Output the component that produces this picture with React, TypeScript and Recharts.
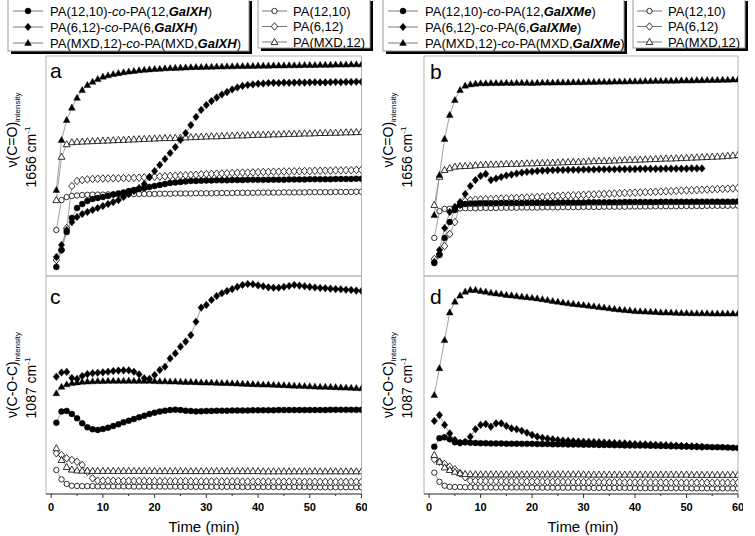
import React from 'react';
import { LineChart, Line, XAxis, YAxis, ReferenceArea } from 'recharts';

// time in minutes (x categories)
const times = [1,2,3,4,5,6,7,8,9,10,11,12,13,14,15,16,17,18,19,20,21,22,23,24,25,26,27,28,29,30,31,32,33,34,35,36,37,38,39,40,41,42,43,44,45,46,47,48,49,50,51,52,53,54,55,56,57,58,59,60];
const timeTicks = [0,5,10,15,20,25,30,35,40,45,50,55,60];

// ---------- Panel a : nu(C=O) 1656 cm-1, GalXH ----------
const aCircCo = [4.1,11.8,20.0,26.4,30.9,32.7,34.1,35.0,35.5,35.9,36.4,37.0,37.5,38.0,38.6,39.1,39.5,40.0,40.5,40.9,41.4,41.8,42.3,42.5,42.7,43.0,43.2,43.2,43.3,43.4,43.4,43.5,43.5,43.5,43.6,43.6,43.6,43.7,43.7,43.7,43.7,43.8,43.8,43.8,43.8,43.9,43.9,43.9,43.9,44.0,44.0,44.0,44.0,44.0,44.1,44.1,44.1,44.1,44.2,44.2];
const aDiaCo = [8.6,14.1,20.9,24.5,26.8,28.2,29.1,30.0,30.9,31.8,32.7,33.6,34.5,35.9,37.3,38.6,40.0,41.8,45.0,47.7,50.5,53.2,55.9,58.6,61.8,65.0,68.6,72.3,75.5,77.7,79.5,81.1,82.5,83.6,84.8,85.7,86.4,86.8,87.1,87.4,87.5,87.7,87.8,87.7,87.9,87.8,87.9,88.0,87.9,88.0,88.1,88.0,88.0,88.1,88.2,88.1,88.2,88.2,88.3,88.3];
const aTriCo = [39.1,61.8,70.9,76.5,81.0,84.5,86.8,88.3,89.5,90.6,91.2,91.8,92.2,92.6,92.9,93.2,93.5,93.7,93.9,94.1,94.2,94.4,94.5,94.6,94.7,94.8,94.9,95.0,95.0,95.1,95.1,95.2,95.2,95.3,95.3,95.4,95.4,95.5,95.5,95.6,95.6,95.6,95.7,95.7,95.7,95.8,95.8,95.8,95.9,95.9,95.9,96.0,96.0,96.0,96.1,96.1,96.1,96.2,96.2,96.2];
const aCirc = [20.9,34.5,35.9,36.4,36.6,36.8,36.9,37.0,37.0,37.0,37.1,37.1,37.1,37.2,37.2,37.2,37.3,37.3,37.3,37.3,37.4,37.4,37.4,37.5,37.5,37.5,37.5,37.6,37.6,37.6,37.6,37.7,37.7,37.7,37.7,37.8,37.8,37.8,37.8,37.9,37.9,37.9,37.9,37.9,38.0,38.0,38.0,38.0,38.0,38.1,38.1,38.1,38.1,38.1,38.2,38.2,38.2,38.2,38.3,38.3];
const aDia = [7.3,11.8,21.8,40.9,43.2,43.6,43.9,44.1,44.2,44.3,44.3,44.4,44.4,44.5,44.5,44.6,44.7,44.8,44.9,45.1,45.2,45.3,45.5,45.6,45.7,45.8,45.9,46.0,46.2,46.3,46.4,46.5,46.6,46.7,46.8,46.9,47.0,47.0,47.1,47.2,47.3,47.3,47.4,47.4,47.5,47.5,47.6,47.6,47.7,47.7,47.8,47.8,47.9,47.9,48.0,48.0,48.1,48.1,48.2,48.2];
const aTri = [34.5,54.2,59.9,60.8,61.0,61.1,61.2,61.3,61.4,61.5,61.6,61.7,61.8,61.9,62.0,62.1,62.2,62.3,62.4,62.5,62.6,62.7,62.7,62.8,62.9,63.0,63.1,63.2,63.3,63.4,63.5,63.5,63.6,63.7,63.8,63.9,63.9,64.0,64.1,64.2,64.2,64.3,64.4,64.4,64.5,64.6,64.6,64.7,64.8,64.8,64.9,65.0,65.0,65.1,65.1,65.2,65.3,65.3,65.4,65.5];

// ---------- Panel b : nu(C=O) 1656 cm-1, GalXMe ----------
const bCircCo = [5.9,9.5,17.3,24.5,30.0,32.3,32.7,33.0,33.0,33.1,33.1,33.1,33.1,33.2,33.2,33.2,33.2,33.2,33.3,33.3,33.3,33.3,33.3,33.3,33.4,33.4,33.4,33.4,33.4,33.4,33.5,33.5,33.5,33.5,33.5,33.5,33.5,33.6,33.6,33.6,33.6,33.6,33.6,33.6,33.7,33.7,33.7,33.7,33.7,33.7,33.7,33.8,33.8,33.8,33.8,33.8,33.8,33.8,33.8,33.9];
const bDiaCo = [6.4,11.8,21.8,29.1,31.4,33.6,37.3,40.9,43.6,45.5,46.4,43.6,44.3,45.0,45.7,46.1,46.6,47.0,47.3,47.5,47.7,47.9,48.0,48.1,48.2,48.2,48.3,48.3,48.3,48.4,48.4,48.4,48.5,48.5,48.5,48.5,48.6,48.6,48.6,48.6,48.7,48.7,48.7,48.7,48.7,48.8,48.8,48.8,48.8,48.8,48.9,48.9,48.9];
const bTriCo = [27.7,45.9,62.3,73.2,80.0,84.5,86.5,87.1,87.4,87.6,87.6,87.7,87.7,87.7,87.8,87.7,87.8,87.8,87.8,87.7,87.8,87.9,87.9,87.9,88.0,88.0,88.0,88.1,88.1,88.1,88.2,88.2,88.3,88.3,88.3,88.4,88.4,88.4,88.5,88.5,88.5,88.6,88.6,88.7,88.7,88.7,88.8,88.8,88.9,88.9,88.9,89.0,89.0,89.1,89.1,89.1,89.2,89.2,89.3,89.3];
const bCirc = [17.3,29.5,30.5,30.6,30.7,30.7,30.8,30.8,30.8,30.9,30.9,30.9,30.9,31.0,31.0,31.0,31.0,31.1,31.1,31.1,31.1,31.2,31.2,31.2,31.2,31.3,31.3,31.3,31.3,31.4,31.4,31.4,31.4,31.5,31.5,31.5,31.5,31.5,31.6,31.6,31.6,31.6,31.6,31.7,31.7,31.7,31.7,31.7,31.8,31.8,31.8,31.8,31.8,31.9,31.9,31.9,31.9,31.9,32.0,32.0];
const bDia = [7.7,10.0,13.6,19.1,24.5,32.3,34.1,34.5,34.7,34.8,34.9,35.0,35.1,35.2,35.3,35.4,35.5,35.6,35.7,35.8,35.9,36.0,36.1,36.3,36.4,36.5,36.6,36.7,36.8,36.9,37.0,37.1,37.2,37.3,37.4,37.5,37.6,37.7,37.8,37.9,38.0,38.1,38.2,38.3,38.4,38.5,38.6,38.7,38.8,38.9,39.0,39.1,39.2,39.3,39.4,39.5,39.6,39.7,39.8,40.0];
const bTri = [32.3,45.1,48.2,49.0,49.7,49.9,50.0,50.1,50.3,50.5,50.6,50.7,50.7,50.8,50.9,51.0,51.0,51.1,51.2,51.2,51.3,51.4,51.5,51.5,51.6,51.7,51.8,51.9,51.9,52.0,52.1,52.2,52.3,52.3,52.4,52.5,52.6,52.7,52.8,52.8,52.9,53.0,53.1,53.2,53.3,53.4,53.4,53.5,53.6,53.7,53.8,53.9,54.0,54.1,54.2,54.3,54.4,54.6,54.8,55.0];

// ---------- Panel c : nu(C-O-C) 1087 cm-1, GalXH ----------
const cCircCo = [32.7,37.8,38.1,36.7,34.7,32.4,30.6,29.7,29.4,29.8,30.4,31.2,32.0,32.9,33.6,34.4,35.2,35.9,36.7,37.3,37.8,38.2,38.5,38.7,38.5,38.2,38.1,37.9,38.0,38.1,38.1,38.2,38.2,38.2,38.3,38.3,38.3,38.3,38.4,38.4,38.4,38.4,38.4,38.5,38.5,38.5,38.5,38.5,38.5,38.5,38.5,38.5,38.5,38.6,38.6,38.6,38.6,38.6,38.6,38.6];
const cDiaCo = [53.8,55.7,56.0,53.2,52.8,54.1,55.0,55.4,55.6,55.8,56.1,56.4,56.6,56.7,56.7,56.1,54.9,53.1,52.8,54.6,56.9,58.4,62.2,64.5,67.6,69.9,72.9,79.0,85.5,86.7,89.0,90.8,92.1,93.1,94.0,95.0,95.9,96.3,96.2,95.7,95.3,94.8,94.6,94.6,95.0,95.4,95.9,95.6,95.3,95.0,94.7,94.5,94.4,94.2,94.0,93.9,93.7,93.6,93.3,93.1];
const cTriCo = [46.2,49.2,50.3,50.9,51.2,51.5,51.6,51.7,51.8,51.8,51.9,51.9,51.9,51.9,52.0,51.9,51.9,51.9,51.9,51.8,51.7,51.7,51.6,51.6,51.5,51.4,51.4,51.3,51.2,51.1,51.1,51.0,50.9,50.9,50.8,50.7,50.6,50.5,50.4,50.3,50.2,50.2,50.1,50.0,49.9,49.8,49.7,49.6,49.5,49.4,49.3,49.2,49.2,49.1,49.0,48.9,48.8,48.7,48.6,48.5];
const cCirc = [11.0,6.7,4.6,3.8,3.7,3.6,3.6,3.6,3.5,3.5,3.5,3.5,3.5,3.5,3.5,3.4,3.4,3.4,3.4,3.4,3.4,3.4,3.4,3.4,3.3,3.3,3.3,3.3,3.3,3.3,3.3,3.3,3.3,3.3,3.3,3.3,3.2,3.2,3.2,3.2,3.2,3.2,3.2,3.2,3.2,3.2,3.2,3.2,3.2,3.2,3.1,3.1,3.1,3.1,3.1,3.1,3.1,3.1,3.1,3.1];
const cDia = [18.7,17.9,16.4,15.6,14.8,13.3,10.2,7.2,6.1,6.1,6.1,6.1,6.0,6.0,6.0,6.0,6.0,6.0,5.9,5.9,5.9,5.9,5.9,5.9,5.9,5.9,5.8,5.8,5.8,5.8,5.8,5.8,5.8,5.8,5.8,5.8,5.7,5.7,5.7,5.7,5.7,5.7,5.7,5.7,5.7,5.7,5.7,5.7,5.6,5.6,5.6,5.6,5.6,5.6,5.6,5.6,5.6,5.6,5.6,5.6];
const cTri = [21.0,15.6,12.4,11.2,10.8,10.7,10.7,10.6,10.6,10.6,10.6,10.6,10.6,10.6,10.6,10.6,10.6,10.6,10.6,10.6,10.5,10.5,10.5,10.5,10.5,10.5,10.5,10.5,10.5,10.5,10.5,10.5,10.5,10.5,10.5,10.5,10.5,10.5,10.5,10.5,10.4,10.4,10.4,10.4,10.4,10.4,10.4,10.4,10.4,10.4,10.4,10.4,10.4,10.4,10.4,10.4,10.4,10.4,10.4,10.4];

// ---------- Panel d : nu(C-O-C) 1087 cm-1, GalXMe ----------
const dCircCo = [21.7,25.6,26.0,25.1,23.7,23.5,23.7,23.5,23.4,23.3,23.3,23.2,23.2,23.2,23.1,23.1,23.1,23.0,23.0,23.0,22.9,22.9,22.9,22.8,22.8,22.8,22.7,22.7,22.7,22.6,22.6,22.6,22.5,22.5,22.5,22.4,22.4,22.3,22.3,22.3,22.2,22.2,22.1,22.1,22.0,22.0,21.9,21.9,21.8,21.8,21.7,21.7,21.6,21.6,21.5,21.5,21.4,21.3,21.2,21.1];
const dDiaCo = [33.5,36.2,31.7,27.8,24.8,23.5,24.0,26.3,29.7,31.7,32.1,30.9,32.4,32.4,31.2,30.1,29.7,29.0,28.1,27.1,26.3,25.8,25.4,25.1,24.8,24.5,24.4,24.2,24.1,24.0,23.9,23.8,23.7,23.6,23.5,23.4,23.3,23.2,23.0,22.9,22.8,22.8,22.7,22.6,22.5,22.4,22.3,22.2,22.1,22.0,21.9,21.8,21.7];
const dTriCo = [45.4,57.7,70.6,83.3,88.2,91.0,92.8,93.6,93.6,93.1,92.8,92.3,92.0,91.7,91.3,91.1,90.8,90.5,90.3,90.0,89.7,89.3,89.0,88.5,88.2,87.8,87.5,87.2,86.9,86.7,86.4,86.1,85.8,85.5,85.2,84.9,84.6,84.4,84.2,83.9,83.8,83.7,83.6,83.5,83.3,83.3,83.2,83.1,83.0,83.0,82.9,82.9,82.9,82.9,82.8,82.8,82.8,82.8,82.8,82.8];
const dCirc = [9.8,5.6,3.8,3.3,3.2,3.2,3.1,3.1,3.1,3.0,3.0,3.0,3.0,3.0,3.0,3.0,3.0,3.0,3.0,3.0,2.9,2.9,2.9,2.9,2.9,2.9,2.9,2.9,2.9,2.9,2.8,2.8,2.8,2.8,2.8,2.8,2.8,2.8,2.8,2.8,2.7,2.7,2.7,2.7,2.7,2.7,2.7,2.7,2.7,2.7,2.6,2.6,2.6,2.6,2.6,2.6,2.6,2.6,2.6,2.6];
const dDia = [15.9,14.8,13.8,12.5,11.3,9.5,7.7,6.1,6.0,6.0,5.9,5.9,5.9,5.9,5.8,5.8,5.8,5.8,5.7,5.7,5.7,5.7,5.6,5.6,5.6,5.6,5.5,5.5,5.5,5.5,5.5,5.4,5.4,5.4,5.4,5.4,5.4,5.3,5.3,5.3,5.3,5.3,5.3,5.3,5.3,5.2,5.2,5.2,5.2,5.2,5.2,5.2,5.2,5.2,5.2,5.2,5.2,5.2,5.2,5.2];
const dTri = [17.9,14.8,12.2,11.0,10.2,9.5,9.2,9.1,9.0,9.0,9.0,9.0,9.0,9.0,9.0,9.0,9.0,9.0,9.0,9.0,9.0,9.0,9.0,9.0,9.0,9.0,9.0,9.0,9.0,9.0,8.9,8.9,8.9,8.9,8.9,8.9,8.9,8.9,8.9,8.9,8.9,8.9,8.9,8.9,8.9,8.9,8.9,8.9,8.9,8.9,8.8,8.8,8.8,8.8,8.8,8.8,8.8,8.8,8.8,8.8];

const FONT = '"Liberation Sans", Arial, Helvetica, sans-serif';

type Shape = 'circle' | 'diamond' | 'triangle';

function Mark({ cx, cy, shape, filled }: { cx: number; cy: number; shape: Shape; filled: boolean }) {
  const fill = filled ? '#000' : '#fff';
  const sw = filled ? 0.4 : 0.8;
  if (shape === 'circle') {
    return <circle cx={cx} cy={cy} r={filled ? 3 : 2.7} fill={fill} stroke="#000" strokeWidth={sw} />;
  }
  if (shape === 'diamond') {
    return (
      <polygon
        points={`${cx},${cy - 3.8} ${cx + 3.2},${cy} ${cx},${cy + 3.8} ${cx - 3.2},${cy}`}
        fill={fill}
        stroke="#000"
        strokeWidth={sw}
      />
    );
  }
  return (
    <polygon
      points={`${cx},${cy - 3.6} ${cx + 3.4},${cy + 2.5} ${cx - 3.4},${cy + 2.5}`}
      fill={fill}
      stroke="#000"
      strokeWidth={sw}
    />
  );
}

type SeriesDef = { key: string; data: number[]; shape: Shape; filled: boolean };

const makeDot = (shape: Shape, filled: boolean) => (p: any) => {
  if (p == null || p.cx == null || p.cy == null || p.value == null || isNaN(p.cy)) {
    return <g key={`e${p?.index}`} />;
  }
  return (
    <g key={`d${p.index}`}>
      <Mark cx={p.cx} cy={p.cy} shape={shape} filled={filled} />
    </g>
  );
};

const TimeTick = (props: any) => {
  const { x, y, payload } = props;
  const major = payload.value % 10 === 0;
  return (
    <g>
      <line x1={x} y1={y} x2={x} y2={y + (major ? 4 : 2)} stroke="#333" strokeWidth={1} />
      {major && (
        <text x={x} y={y + 17} textAnchor="middle" fontSize={11} fontWeight="bold" fontFamily={FONT} fill="#000">
          {payload.value}
        </text>
      )}
    </g>
  );
};

function Panel({
  left,
  top,
  plotW,
  plotH,
  showX,
  series,
}: {
  left: number;
  top: number;
  plotW: number;
  plotH: number;
  showX: boolean;
  series: SeriesDef[];
}) {
  const rows = times.map((t, i) => {
    const r: any = { t };
    series.forEach((s) => {
      r[s.key] = s.data[i] === undefined ? null : s.data[i];
    });
    return r;
  });
  const axisH = 25;
  const W = plotW + 10;
  const H = plotH + 5 + (showX ? axisH : 5);
  return (
    <div style={{ position: 'absolute', left: left - 5, top: top - 5 }}>
      <LineChart
        width={W}
        height={H}
        data={rows}
        margin={{ top: 5, right: 5, left: 5, bottom: showX ? 0 : 5 }}
      >
        <XAxis
          dataKey="t"
          type="number"
          domain={[-1, 60]}
          ticks={timeTicks}
          hide={!showX}
          height={axisH}
          tickLine={false}
          tickSize={0}
          tickMargin={0}
          tick={<TimeTick />}
          axisLine={{ stroke: '#444', strokeWidth: 1 }}
          interval={0}
          allowDataOverflow
        />
        <YAxis hide domain={[0, 100]} type="number" allowDataOverflow />
        <ReferenceArea x1={-1} x2={60} y1={0} y2={100} fill="none" stroke="#b5b5b5" strokeWidth={1} ifOverflow="visible" />
        {series.map((s) => (
          <Line
            key={s.key}
            dataKey={s.key}
            type="linear"
            stroke="#8a8a8a"
            strokeWidth={0.8}
            dot={makeDot(s.shape, s.filled)}
            activeDot={false}
            isAnimationActive={false}
            connectNulls={false}
          />
        ))}
      </LineChart>
    </div>
  );
}

const seriesA: SeriesDef[] = [
  { key: 'circ', data: aCirc, shape: 'circle', filled: false },
  { key: 'dia', data: aDia, shape: 'diamond', filled: false },
  { key: 'tri', data: aTri, shape: 'triangle', filled: false },
  { key: 'circCo', data: aCircCo, shape: 'circle', filled: true },
  { key: 'diaCo', data: aDiaCo, shape: 'diamond', filled: true },
  { key: 'triCo', data: aTriCo, shape: 'triangle', filled: true },
];
const seriesB: SeriesDef[] = [
  { key: 'circ', data: bCirc, shape: 'circle', filled: false },
  { key: 'dia', data: bDia, shape: 'diamond', filled: false },
  { key: 'tri', data: bTri, shape: 'triangle', filled: false },
  { key: 'circCo', data: bCircCo, shape: 'circle', filled: true },
  { key: 'diaCo', data: bDiaCo, shape: 'diamond', filled: true },
  { key: 'triCo', data: bTriCo, shape: 'triangle', filled: true },
];
const seriesC: SeriesDef[] = [
  { key: 'circ', data: cCirc, shape: 'circle', filled: false },
  { key: 'dia', data: cDia, shape: 'diamond', filled: false },
  { key: 'tri', data: cTri, shape: 'triangle', filled: false },
  { key: 'circCo', data: cCircCo, shape: 'circle', filled: true },
  { key: 'diaCo', data: cDiaCo, shape: 'diamond', filled: true },
  { key: 'triCo', data: cTriCo, shape: 'triangle', filled: true },
];
const seriesD: SeriesDef[] = [
  { key: 'circ', data: dCirc, shape: 'circle', filled: false },
  { key: 'dia', data: dDia, shape: 'diamond', filled: false },
  { key: 'tri', data: dTri, shape: 'triangle', filled: false },
  { key: 'circCo', data: dCircCo, shape: 'circle', filled: true },
  { key: 'diaCo', data: dDiaCo, shape: 'diamond', filled: true },
  { key: 'triCo', data: dTriCo, shape: 'triangle', filled: true },
];

function LegendRow({ x1, x2, y, shape, filled, tx, children }: any) {
  const mx = (x1 + x2) / 2;
  return (
    <g>
      <line x1={x1} y1={y} x2={x2} y2={y} stroke="#555" strokeWidth={0.8} />
      <Mark cx={mx} cy={y} shape={shape} filled={filled} />
      <text x={tx} y={y + 4.6} fontSize={13} fontFamily={FONT} fill="#000">
        {children}
      </text>
    </g>
  );
}

function CoLabel({ a, b, c }: { a: string; b: string; c: string }) {
  return (
    <>
      {a}
      <tspan fontStyle="italic">co</tspan>
      {b}
      <tspan fontStyle="italic" fontWeight="bold">{c}</tspan>
      {')'}
    </>
  );
}

function LegendBoxes({ ox, mod }: { ox: number; mod: string }) {
  const rows = [11, 27, 43];
  return (
    <g>
      <rect x={ox + 11} y={1} width={241} height={53} fill="#000" />
      <rect x={ox + 8} y={-2} width={241} height={53} fill="#fff" stroke="#999" strokeWidth={1} />
      <LegendRow x1={ox + 13} x2={ox + 43} y={rows[0]} shape="circle" filled tx={ox + 50}>
        <CoLabel a="PA(12,10)-" b="-PA(12," c={mod} />
      </LegendRow>
      <LegendRow x1={ox + 13} x2={ox + 43} y={rows[1]} shape="diamond" filled tx={ox + 50}>
        <CoLabel a="PA(6,12)-" b="-PA(6," c={mod} />
      </LegendRow>
      <LegendRow x1={ox + 13} x2={ox + 43} y={rows[2]} shape="triangle" filled tx={ox + 50}>
        <CoLabel a="PA(MXD,12)-" b="-PA(MXD," c={mod} />
      </LegendRow>

      <rect x={ox + 261} y={1} width={112} height={50} fill="#000" />
      <rect x={ox + 258} y={-2} width={112} height={50} fill="#fff" stroke="#999" strokeWidth={1} />
      <LegendRow x1={ox + 262} x2={ox + 287} y={rows[0]} shape="circle" filled={false} tx={ox + 293}>
        PA(12,10)
      </LegendRow>
      <LegendRow x1={ox + 262} x2={ox + 287} y={rows[1] - 0.5} shape="diamond" filled={false} tx={ox + 293}>
        PA(6,12)
      </LegendRow>
      <LegendRow x1={ox + 262} x2={ox + 287} y={rows[2] - 1} shape="triangle" filled={false} tx={ox + 293}>
        PA(MXD,12)
      </LegendRow>
    </g>
  );
}

function YTitle({ x1, x2, y1, y2, main, wn }: { x1: number; x2: number; y1: number; y2: number; main: string; wn: string }) {
  return (
    <g>
      <text transform={`translate(${x1},${y1}) rotate(-90)`} textAnchor="middle" fontSize={14} fontFamily={FONT} fill="#000">
        {main}
        <tspan fontSize={8} dy={3}>intensity</tspan>
      </text>
      <text transform={`translate(${x2},${y2}) rotate(-90)`} textAnchor="middle" fontSize={14} fontFamily={FONT} fill="#000">
        {wn} cm
        <tspan fontSize={8} dy={-6}>-1</tspan>
      </text>
    </g>
  );
}

export default function App() {
  return (
    <div style={{ position: 'absolute', left: 0, top: 0, width: 755, height: 536, background: '#fff', overflow: 'hidden' }}>
      <Panel left={46} top={56} plotW={315.5} plotH={220} showX={false} series={seriesA} />
      <Panel left={46} top={276} plotW={315.5} plotH={218} showX series={seriesC} />
      <Panel left={424} top={56} plotW={314} plotH={220} showX={false} series={seriesB} />
      <Panel left={424} top={276} plotW={314} plotH={218} showX series={seriesD} />
      <svg width={755} height={536} style={{ position: 'absolute', left: 0, top: 0, pointerEvents: 'none' }}>
        <LegendBoxes ox={0} mod="GalXH" />
        <LegendBoxes ox={375} mod="GalXMe" />

        <text x={50} y={78} fontSize={21} fontFamily={FONT} fill="#000">a</text>
        <text x={430} y={79} fontSize={21} fontFamily={FONT} fill="#000">b</text>
        <text x={50} y={304} fontSize={21} fontFamily={FONT} fill="#000">c</text>
        <text x={430} y={304} fontSize={21} fontFamily={FONT} fill="#000">d</text>

        <YTitle x1={17} x2={36} y1={130} y2={157} main="ν(C=O)" wn="1656" />
        <YTitle x1={17} x2={36} y1={375} y2={388} main="ν(C-O-C)" wn="1087" />
        <YTitle x1={393} x2={412} y1={130} y2={157} main="ν(C=O)" wn="1656" />
        <YTitle x1={393} x2={412} y1={375} y2={388} main="ν(C-O-C)" wn="1087" />

        <text x={204} y={532} textAnchor="middle" fontSize={15} fontFamily={FONT} fill="#000">Time (min)</text>
        <text x={583} y={532} textAnchor="middle" fontSize={15} fontFamily={FONT} fill="#000">Time (min)</text>
      </svg>
    </div>
  );
}
